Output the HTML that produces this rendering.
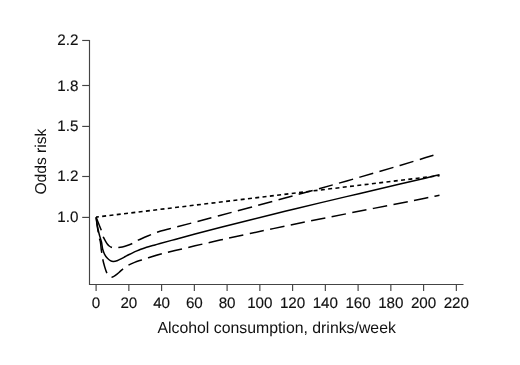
<!DOCTYPE html><html><head><meta charset="utf-8"><style>html,body{margin:0;padding:0;background:#fff;width:520px;height:365px;overflow:hidden}svg{position:absolute;left:0;top:0;filter:grayscale(1)}text{font-family:"Liberation Sans",sans-serif;fill:#111;stroke:#111;stroke-width:0px;text-rendering:geometricPrecision}.t text{stroke-width:0.15px}</style></head><body>
<svg width="520" height="365" viewBox="0 0 520 365">
<g stroke="#444" stroke-width="1.15" fill="none">
<path d="M89.5,39.92V284.5H463.5"/>
<path d="M82.2,40.47H89.5"/>
<path d="M82.2,85.50H89.5"/>
<path d="M82.2,126.41H89.5"/>
<path d="M82.2,176.49H89.5"/>
<path d="M82.2,217.40H89.5"/>
<path d="M96.10,284.5V291"/>
<path d="M128.85,284.5V291"/>
<path d="M161.60,284.5V291"/>
<path d="M194.35,284.5V291"/>
<path d="M227.10,284.5V291"/>
<path d="M259.85,284.5V291"/>
<path d="M292.60,284.5V291"/>
<path d="M325.35,284.5V291"/>
<path d="M358.10,284.5V291"/>
<path d="M390.85,284.5V291"/>
<path d="M423.60,284.5V291"/>
<path d="M456.35,284.5V291"/>
</g>
<g font-size="15.2" class="t">
<text x="78.4" y="45.27" text-anchor="end">2.2</text>
<text x="78.4" y="91.05" text-anchor="end">1.8</text>
<text x="78.4" y="131.46" text-anchor="end">1.5</text>
<text x="78.4" y="181.39" text-anchor="end">1.2</text>
<text x="78.4" y="222.30" text-anchor="end">1.0</text>
<text x="96.10" y="307.8" text-anchor="middle">0</text>
<text x="128.85" y="307.8" text-anchor="middle">20</text>
<text x="161.60" y="307.8" text-anchor="middle">40</text>
<text x="194.35" y="307.8" text-anchor="middle">60</text>
<text x="227.10" y="307.8" text-anchor="middle">80</text>
<text x="259.85" y="307.8" text-anchor="middle">100</text>
<text x="292.60" y="307.8" text-anchor="middle">120</text>
<text x="325.35" y="307.8" text-anchor="middle">140</text>
<text x="358.10" y="307.8" text-anchor="middle">160</text>
<text x="390.85" y="307.8" text-anchor="middle">180</text>
<text x="423.60" y="307.8" text-anchor="middle">200</text>
<text x="456.35" y="307.8" text-anchor="middle">220</text>
</g>
<text x="157.4" y="332.8" font-size="16" textLength="238.5" lengthAdjust="spacingAndGlyphs">Alcohol consumption, drinks/week</text>
<text transform="translate(46.4,161.6) rotate(-90)" font-size="15.7" text-anchor="middle" textLength="66" lengthAdjust="spacingAndGlyphs">Odds risk</text>
<g fill="none" stroke="#000" stroke-width="1.5">
<path d="M96.10,217.10 C96.53,220.07 96.90,223.22 97.40,226.00 C97.85,228.48 98.34,230.77 98.90,233.00 C99.42,235.09 100.12,237.34 100.60,239.00 C100.94,240.17 101.22,240.77 101.50,242.00 C101.94,243.89 102.11,247.12 102.70,249.30 C103.20,251.15 103.81,252.79 104.60,254.30 C105.33,255.70 106.21,257.03 107.20,258.10 C108.12,259.10 109.23,260.04 110.30,260.60 C111.24,261.09 112.12,261.41 113.20,261.45 C114.53,261.50 116.29,260.99 117.70,260.50 C119.05,260.03 120.23,259.26 121.50,258.60 C122.80,257.93 124.11,257.19 125.40,256.50 C126.67,255.82 127.92,255.15 129.20,254.50 C130.49,253.85 131.80,253.21 133.10,252.60 C134.37,252.01 135.62,251.45 136.90,250.90 C138.19,250.35 139.50,249.80 140.80,249.30 C142.07,248.81 143.32,248.38 144.60,247.95 C145.89,247.51 147.03,247.14 148.50,246.70 C150.39,246.14 152.98,245.47 155.00,244.91 C156.78,244.42 157.89,244.11 160.00,243.53 C163.66,242.52 169.64,240.87 175.00,239.42 C181.19,237.75 187.96,235.93 195.00,234.07 C202.87,231.99 211.28,229.79 220.00,227.54 C229.54,225.09 239.61,222.53 250.00,219.93 C261.21,217.13 273.33,214.15 285.00,211.31 C296.66,208.46 307.94,205.76 320.00,202.88 C332.89,199.81 346.67,196.56 360.00,193.42 C373.33,190.27 388.23,186.79 400.00,184.03 C409.31,181.84 417.79,179.85 425.00,178.16 C430.49,176.87 434.67,175.88 439.50,174.74"/>
<path d="M96.10,217.10 C97.00,219.40 97.91,221.75 98.80,224.00 C99.65,226.15 100.53,228.12 101.30,230.30 C102.10,232.58 102.73,235.56 103.50,237.40 C104.02,238.64 104.51,239.36 105.10,240.40 C105.76,241.55 106.54,243.01 107.30,244.00 C107.92,244.80 108.50,245.44 109.20,246.00 C109.87,246.54 110.55,246.96 111.40,247.30 C112.43,247.71 113.80,248.05 115.00,248.10 C116.17,248.14 117.16,247.84 118.50,247.60 C120.34,247.27 122.82,246.83 125.00,246.20 C127.29,245.54 129.70,244.71 131.90,243.70 C134.07,242.70 135.78,241.36 138.10,240.20 C140.92,238.79 144.29,237.40 147.70,236.00 C151.53,234.43 155.66,232.67 160.00,231.27 C164.71,229.75 169.64,228.74 175.00,227.34 C181.19,225.73 187.96,223.99 195.00,222.13 C202.87,220.06 211.29,217.81 220.00,215.49 C229.55,212.95 239.62,210.26 250.00,207.47 C261.22,204.45 273.34,201.20 285.00,198.02 C296.67,194.85 307.95,191.77 320.00,188.42 C332.89,184.83 346.68,180.97 360.00,177.14 C373.34,173.30 388.23,168.93 400.00,165.42 C409.32,162.64 417.80,160.04 425.00,157.82 C430.49,156.13 434.67,154.80 439.50,153.30" stroke-dasharray="14.5 6.45" stroke-dashoffset="0.25"/>
<path d="M96.10,217.10 C96.47,220.07 96.79,223.22 97.20,226.00 C97.57,228.48 97.98,230.76 98.40,233.00 C98.79,235.08 99.21,237.35 99.60,239.00 C99.87,240.18 100.16,240.75 100.40,242.00 C100.78,244.01 101.04,248.09 101.30,250.00 C101.45,251.07 101.53,251.46 101.70,252.50 C101.98,254.25 102.32,257.18 102.80,259.50 C103.28,261.85 103.94,264.28 104.60,266.50 C105.21,268.56 105.85,270.81 106.60,272.40 C107.15,273.57 107.74,274.50 108.40,275.30 C108.96,275.98 109.57,276.70 110.20,277.00 C110.71,277.24 111.27,277.26 111.80,277.20 C112.37,277.14 112.96,276.85 113.50,276.60 C114.03,276.35 114.40,276.12 115.00,275.70 C116.03,274.98 117.73,273.59 119.00,272.50 C120.22,271.45 121.13,270.38 122.50,269.30 C124.19,267.96 126.44,266.36 128.50,265.20 C130.48,264.08 132.48,263.25 134.60,262.40 C136.81,261.51 139.19,260.78 141.50,260.00 C143.82,259.21 145.87,258.52 148.50,257.70 C151.85,256.65 155.90,255.39 160.00,254.27 C164.65,253.01 169.64,251.88 175.00,250.59 C181.19,249.09 187.96,247.47 195.00,245.83 C202.87,243.99 211.28,242.06 220.00,240.10 C229.54,237.97 239.61,235.75 250.00,233.52 C261.21,231.11 273.33,228.57 285.00,226.15 C296.66,223.74 307.94,221.46 320.00,219.03 C332.89,216.44 346.67,213.72 360.00,211.08 C373.33,208.44 388.23,205.52 400.00,203.19 C409.31,201.34 417.80,199.66 425.00,198.22 C430.49,197.13 434.67,196.28 439.50,195.31" stroke-dasharray="14.5 6.43" stroke-dashoffset="-0.85"/>
<path d="M96.1,217.1L439.5,175.6" stroke-width="1.6" stroke-dasharray="4 3.343" stroke-dashoffset="1.243"/>
</g>
</svg></body></html>
